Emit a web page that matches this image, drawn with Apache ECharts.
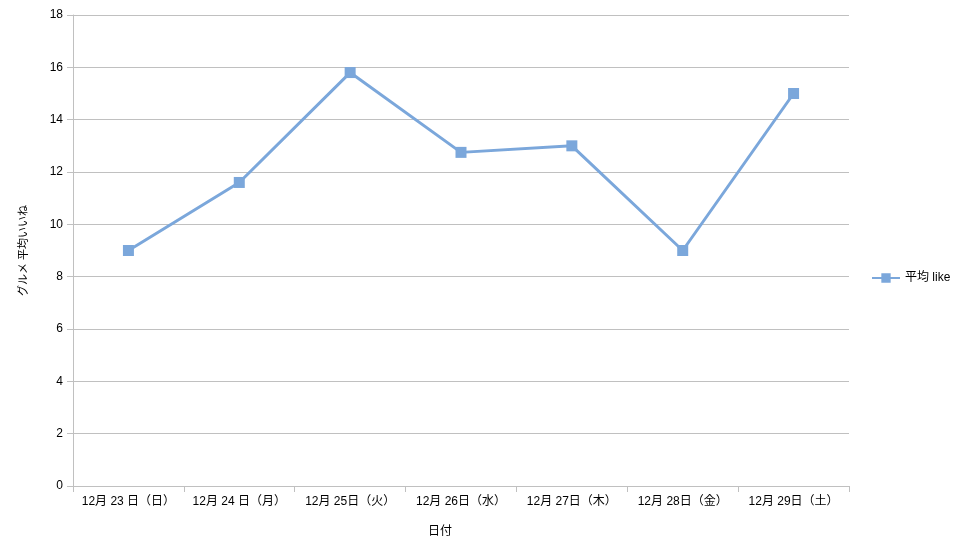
<!DOCTYPE html>
<html><head><meta charset="utf-8">
<script src="https://cdn.jsdelivr.net/npm/echarts@6/dist/echarts.min.js"></script>
<style>html,body{margin:0;padding:0;background:#fff}#c{width:958px;height:547px}</style>
</head><body><div id="c"></div>
<script>
const categories = ['12月 23 日（日）','12月 24 日（月）','12月 25日（火）','12月 26日（水）','12月 27日（木）','12月 28日（金）','12月 29日（土）'];
const avgLike = [9, 11.6, 15.8, 12.75, 13, 9, 15];
const yTicks = {min: 0, max: 18, interval: 2};
const seriesName = '平均 like';
const xName = '日付';
const yName = 'グルメ 平均いいね';

const font = '"Liberation Sans", Arial, "Noto Sans CJK JP", sans-serif';
const chart = echarts.init(document.getElementById('c'));
chart.setOption({
  animation: false,
  textStyle: {fontFamily: font},
  grid: {left: 73, right: 109, top: 15, bottom: 61, containLabel: false},
  legend: {
    data: [{name: seriesName, icon: 'path://M0,4L30,4L30,6L0,6Z M10,0L20,0L20,10L10,10Z'}],
    orient: 'vertical', left: 867, top: 267, itemWidth: 28, itemHeight: 10, itemGap: 5,
    textStyle: {fontSize: 12, color: '#000', fontFamily: font}
  },
  xAxis: {
    type: 'category', data: categories, boundaryGap: true,
    axisLine: {lineStyle: {color: '#c0c0c0', width: 1}},
    axisTick: {show: true, interval: 0, length: 6, lineStyle: {color: '#c0c0c0'}},
    axisLabel: {color: '#000', fontSize: 12, margin: 10, interval: 0, fontFamily: font},
    name: xName, nameLocation: 'middle', nameGap: 40,
    nameTextStyle: {color: '#000', fontSize: 12, padding: [0, 42, 0, 0], fontFamily: font}
  },
  yAxis: {
    type: 'value', min: yTicks.min, max: yTicks.max, interval: yTicks.interval,
    axisLine: {show: true, lineStyle: {color: '#c0c0c0'}},
    axisTick: {show: true, length: 6, lineStyle: {color: '#c0c0c0'}},
    axisLabel: {color: '#000', fontSize: 12, margin: 10, fontFamily: font},
    splitLine: {lineStyle: {color: '#c0c0c0', width: 1}},
    name: yName, nameLocation: 'middle', nameGap: 44, nameRotate: 90,
    nameTextStyle: {color: '#000', fontSize: 11, fontFamily: font}
  },
  series: [{
    name: seriesName, type: 'line', data: avgLike,
    symbol: 'rect', symbolSize: 11,
    lineStyle: {color: '#7ba7db', width: 3},
    itemStyle: {color: '#7ba7db'}
  }]
});
</script></body></html>
